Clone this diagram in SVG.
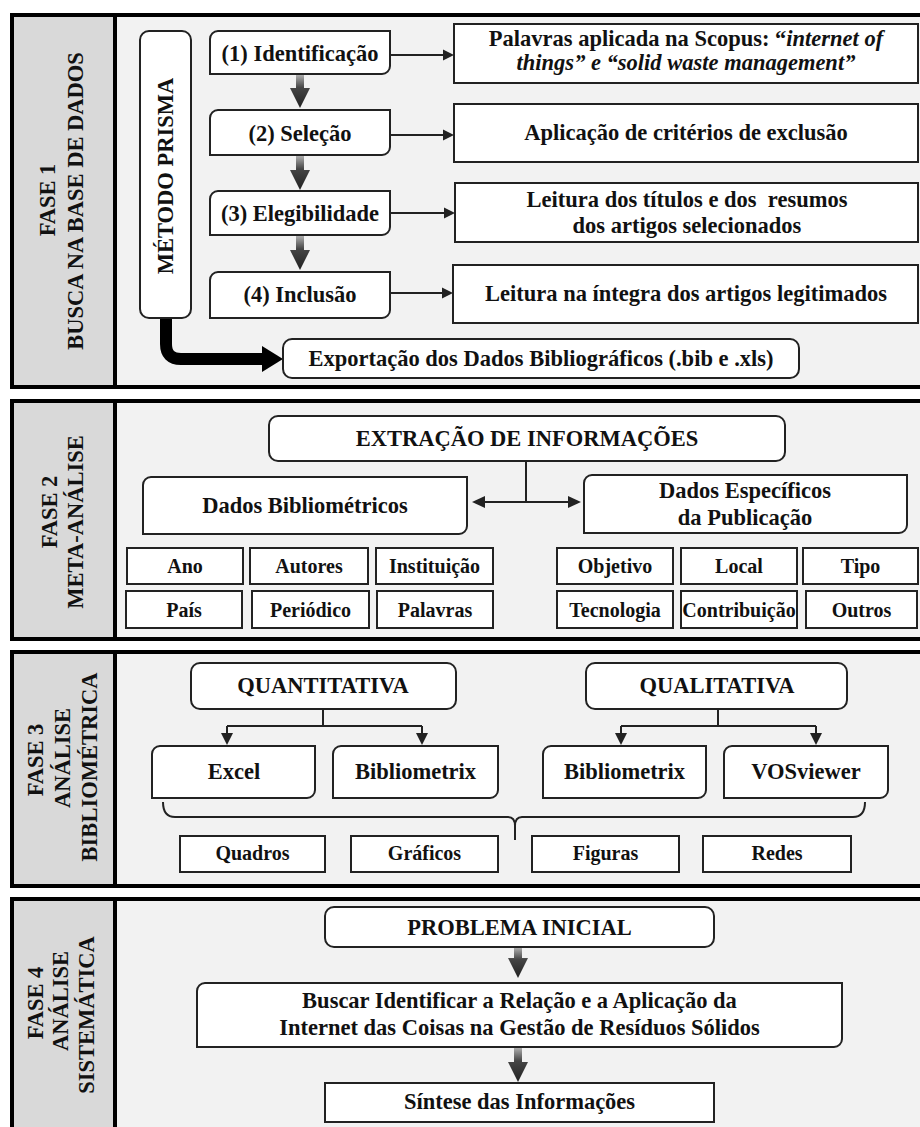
<svg xmlns="http://www.w3.org/2000/svg" width="920" height="1127" viewBox="0 0 920 1127">
<defs>
<style>
.panel{fill:#f2f2f2;stroke:#000;stroke-width:4}
.lab{fill:#d9d9d9}
.div{stroke:#000;stroke-width:4}
.box{fill:#fff;stroke:#222;stroke-width:2}
.t{font-weight:bold;font-size:22.5px;fill:#111;text-anchor:middle}
.s{font-size:20px}
.i{font-style:italic}
.ln{fill:none;stroke:#222;stroke-width:2}
.ah{fill:#222}
.big{fill:url(#g)}
</style>
<linearGradient id="g" x1="0" y1="0" x2="0" y2="1">
<stop offset="0" stop-color="#b5b5b5"/>
<stop offset="0.4" stop-color="#454545"/>
<stop offset="1" stop-color="#222"/>
</linearGradient>
</defs>
<rect width="920" height="1127" fill="#fff"/>
<g font-family="Liberation Serif, Times New Roman, serif">
<!-- Panels -->
<g id="fase1-panel">
<rect class="panel" x="12" y="15" width="930" height="372"/>
<rect class="lab" x="14" y="17" width="101" height="368"/>
<line class="div" x1="115" y1="15" x2="115" y2="387"/>
<text class="t" transform="translate(55,200) rotate(-90)">FASE 1</text>
<text class="t" transform="translate(83,201) rotate(-90)">BUSCA NA BASE DE DADOS</text>
</g>
<g id="fase2-panel">
<rect class="panel" x="12" y="401" width="930" height="238"/>
<rect class="lab" x="14" y="403" width="101" height="234"/>
<line class="div" x1="115" y1="401" x2="115" y2="639"/>
<text class="t" transform="translate(57,512) rotate(-90)">FASE 2</text>
<text class="t" transform="translate(83,522) rotate(-90)">META-ANÁLISE</text>
</g>
<g id="fase3-panel">
<rect class="panel" x="12" y="652" width="930" height="234"/>
<rect class="lab" x="14" y="654" width="101" height="230"/>
<line class="div" x1="115" y1="652" x2="115" y2="886"/>
<text class="t" transform="translate(43,760) rotate(-90)">FASE 3</text>
<text class="t" transform="translate(70,758) rotate(-90)">ANÁLISE</text>
<text class="t" transform="translate(97,767) rotate(-90)">BIBLIOMÉTRICA</text>
</g>
<g id="fase4-panel">
<rect class="panel" x="12" y="899" width="930" height="240"/>
<rect class="lab" x="14" y="901" width="101" height="236"/>
<line class="div" x1="115" y1="899" x2="115" y2="1127"/>
<text class="t" transform="translate(43,1003) rotate(-90)">FASE 4</text>
<text class="t" transform="translate(68,1001) rotate(-90)">ANÁLISE</text>
<text class="t" transform="translate(94,1015) rotate(-90)">SISTEMÁTICA</text>
</g>

<!-- Connectors -->
<g id="connectors">
<polygon class="big" points="296,74 304,74 304,88 310,88 300,108 290,88 296,88"/>
<polygon class="big" points="296,155 304,155 304,170 310,170 300,190 290,170 296,170"/>
<polygon class="big" points="296,235 304,235 304,250 310,250 300,270 290,250 296,250"/>
<line class="ln" x1="390" y1="55" x2="444" y2="55"/><polygon class="ah" points="443,49.5 454,55 443,60.5"/>
<line class="ln" x1="390" y1="135" x2="444" y2="135"/><polygon class="ah" points="443,129.5 454,135 443,140.5"/>
<line class="ln" x1="390" y1="213" x2="445" y2="213"/><polygon class="ah" points="444,207.5 455,213 444,218.5"/>
<line class="ln" x1="390" y1="293" x2="443" y2="293"/><polygon class="ah" points="442,287.5 453,293 442,298.5"/>
<path d="M166,318 V344 Q166,359 181,359 H265" fill="none" stroke="#000" stroke-width="12"/>
<polygon fill="#000" points="262,346 283,359 262,372"/>
<line class="ln" x1="526" y1="461" x2="526" y2="502"/>
<line class="ln" x1="482" y1="502" x2="570" y2="502"/>
<polygon class="ah" points="472,502 485,496 485,508"/>
<polygon class="ah" points="581,502 568,496 568,508"/>
<path class="ln" d="M323,709 V726 M227,726 H422 M227,726 V735 M422,726 V735"/>
<polygon class="ah" points="221,733 233,733 227,745"/>
<polygon class="ah" points="416,733 428,733 422,745"/>
<path class="ln" d="M718,709 V726 M621,726 H816 M621,726 V735 M816,726 V735"/>
<polygon class="ah" points="615,733 627,733 621,745"/>
<polygon class="ah" points="810,733 822,733 816,745"/>
<path class="ln" d="M163,802 Q163,817 175,817 H508 Q515,817 515,826 V840 M515,826 Q515,817 522,817 H853 Q865,817 865,802"/>
<polygon class="big" points="514,947 522,947 522,958 528,958 518,978 508,958 514,958"/>
<polygon class="big" points="514,1047 522,1047 522,1062 528,1062 518,1082 508,1062 514,1062"/>
</g>

<!-- Fase 1 nodes -->
<g id="prisma"><rect class="box" x="140" y="31" width="51" height="287" rx="9"/>
<text class="t" transform="translate(173,176) rotate(-90)">MÉTODO PRISMA</text></g>
<g id="identificacao"><path class="box" d="M218,31 H390 V66 A8,8 0 0 1 382,74 H210 V39 A8,8 0 0 1 218,31 Z"/>
<text class="t" x="300" y="61">(1) Identificação</text></g>
<g id="selecao"><path class="box" d="M218,110 H390 V147 A8,8 0 0 1 382,155 H210 V118 A8,8 0 0 1 218,110 Z"/>
<text class="t" x="300" y="141">(2) Seleção</text></g>
<g id="elegibilidade"><path class="box" d="M218,191 H390 V227 A8,8 0 0 1 382,235 H210 V199 A8,8 0 0 1 218,191 Z"/>
<text class="t" x="300" y="221">(3) Elegibilidade</text></g>
<g id="inclusao"><path class="box" d="M218,272 H390 V310 A8,8 0 0 1 382,318 H210 V280 A8,8 0 0 1 218,272 Z"/>
<text class="t" x="300" y="302">(4) Inclusão</text></g>
<g id="palavras"><rect class="box" x="454" y="24" width="464" height="59"/>
<text class="t" x="686" y="46">Palavras aplicada na Scopus: “<tspan class="i">internet of</tspan></text>
<text class="t i" x="686" y="70">things” e “solid waste management”</text></g>
<g id="criterios"><rect class="box" x="454" y="104" width="464" height="58"/>
<text class="t" x="686" y="140">Aplicação de critérios de exclusão</text></g>
<g id="leitura-titulos"><rect class="box" x="455" y="183" width="463" height="59"/>
<text class="t" x="687" y="207" xml:space="preserve">Leitura dos títulos e dos  resumos</text>
<text class="t" x="687" y="233">dos artigos selecionados</text></g>
<g id="leitura-integra"><rect class="box" x="453" y="265" width="465" height="58"/>
<text class="t" x="686" y="301">Leitura na íntegra dos artigos legitimados</text></g>
<g id="exportacao"><rect class="box" x="283" y="339" width="516" height="39" rx="9"/>
<text class="t" x="541" y="366">Exportação dos Dados Bibliográficos (.bib e .xls)</text></g>

<!-- Fase 2 nodes -->
<g id="extracao"><rect class="box" x="269" y="416" width="516" height="45" rx="9"/>
<text class="t" x="527" y="446">EXTRAÇÃO DE INFORMAÇÕES</text></g>
<g id="dados-bib"><path class="box" d="M151,477 H467 V526 A8,8 0 0 1 459,534 H143 V485 A8,8 0 0 1 151,477 Z"/>
<text class="t" x="305" y="513">Dados Bibliométricos</text></g>
<g id="dados-esp"><path class="box" d="M592,475 H907 V525 A8,8 0 0 1 899,533 H584 V483 A8,8 0 0 1 592,475 Z"/>
<text class="t" x="745" y="498">Dados Específicos</text>
<text class="t" x="745" y="525">da Publicação</text></g>
<g id="ano"><rect class="box" x="127" y="548" width="116" height="36"/><text class="t s" x="185" y="573">Ano</text></g>
<g id="autores"><rect class="box" x="250" y="548" width="118" height="36"/><text class="t s" x="309" y="573">Autores</text></g>
<g id="instituicao"><rect class="box" x="376" y="548" width="117" height="36"/><text class="t s" x="434.5" y="573">Instituição</text></g>
<g id="pais"><rect class="box" x="126" y="591" width="116" height="37"/><text class="t s" x="184" y="617">País</text></g>
<g id="periodico"><rect class="box" x="252" y="591" width="117" height="37"/><text class="t s" x="310.5" y="617">Periódico</text></g>
<g id="palavras-chave"><rect class="box" x="377" y="591" width="116" height="37"/><text class="t s" x="435" y="617">Palavras</text></g>
<g id="objetivo"><rect class="box" x="557" y="548" width="116" height="36"/><text class="t s" x="615" y="573">Objetivo</text></g>
<g id="local"><rect class="box" x="681" y="548" width="116" height="36"/><text class="t s" x="739" y="573">Local</text></g>
<g id="tipo"><rect class="box" x="803" y="548" width="115" height="36"/><text class="t s" x="860.5" y="573">Tipo</text></g>
<g id="tecnologia"><rect class="box" x="557" y="591" width="116" height="37"/><text class="t s" x="615" y="617">Tecnologia</text></g>
<g id="contribuicao"><rect class="box" x="681" y="591" width="116" height="37"/><text class="t s" x="739" y="617">Contribuição</text></g>
<g id="outros"><rect class="box" x="806" y="591" width="111" height="37"/><text class="t s" x="861.5" y="617">Outros</text></g>

<!-- Fase 3 nodes -->
<g id="quantitativa"><rect class="box" x="191" y="663" width="265" height="46" rx="9"/>
<text class="t" x="323" y="693">QUANTITATIVA</text></g>
<g id="qualitativa"><rect class="box" x="586" y="663" width="261" height="46" rx="9"/>
<text class="t" x="717" y="693">QUALITATIVA</text></g>
<g id="excel"><path class="box" d="M160,746 H315 V790 A8,8 0 0 1 307,798 H152 V754 A8,8 0 0 1 160,746 Z"/>
<text class="t" x="234" y="779">Excel</text></g>
<g id="bibliometrix-1"><path class="box" d="M341,746 H498 V790 A8,8 0 0 1 490,798 H333 V754 A8,8 0 0 1 341,746 Z"/>
<text class="t" x="415.5" y="779">Bibliometrix</text></g>
<g id="bibliometrix-2"><path class="box" d="M551,746 H706 V790 A8,8 0 0 1 698,798 H543 V754 A8,8 0 0 1 551,746 Z"/>
<text class="t" x="624.5" y="779">Bibliometrix</text></g>
<g id="vosviewer"><path class="box" d="M732,746 H888 V790 A8,8 0 0 1 880,798 H724 V754 A8,8 0 0 1 732,746 Z"/>
<text class="t" x="806" y="779">VOSviewer</text></g>
<g id="quadros"><rect class="box" x="180" y="836" width="145" height="36"/><text class="t s" x="252.5" y="860">Quadros</text></g>
<g id="graficos"><rect class="box" x="351" y="836" width="147" height="36"/><text class="t s" x="424.5" y="860">Gráficos</text></g>
<g id="figuras"><rect class="box" x="532" y="836" width="147" height="36"/><text class="t s" x="605.5" y="860">Figuras</text></g>
<g id="redes"><rect class="box" x="703" y="836" width="148" height="36"/><text class="t s" x="777" y="860">Redes</text></g>

<!-- Fase 4 nodes -->
<g id="problema"><rect class="box" x="325" y="907" width="389" height="40" rx="9"/>
<text class="t" x="519.5" y="935">PROBLEMA INICIAL</text></g>
<g id="buscar"><path class="box" d="M205,983 H842 V1039 A8,8 0 0 1 834,1047 H197 V991 A8,8 0 0 1 205,983 Z"/>
<text class="t" x="519.5" y="1008">Buscar Identificar a Relação e a Aplicação da</text>
<text class="t" x="519.5" y="1035">Internet das Coisas na Gestão de Resíduos Sólidos</text></g>
<g id="sintese"><rect class="box" x="325" y="1083" width="389" height="39"/>
<text class="t" x="519.5" y="1109">Síntese das Informações</text></g>
</g>
</svg>
